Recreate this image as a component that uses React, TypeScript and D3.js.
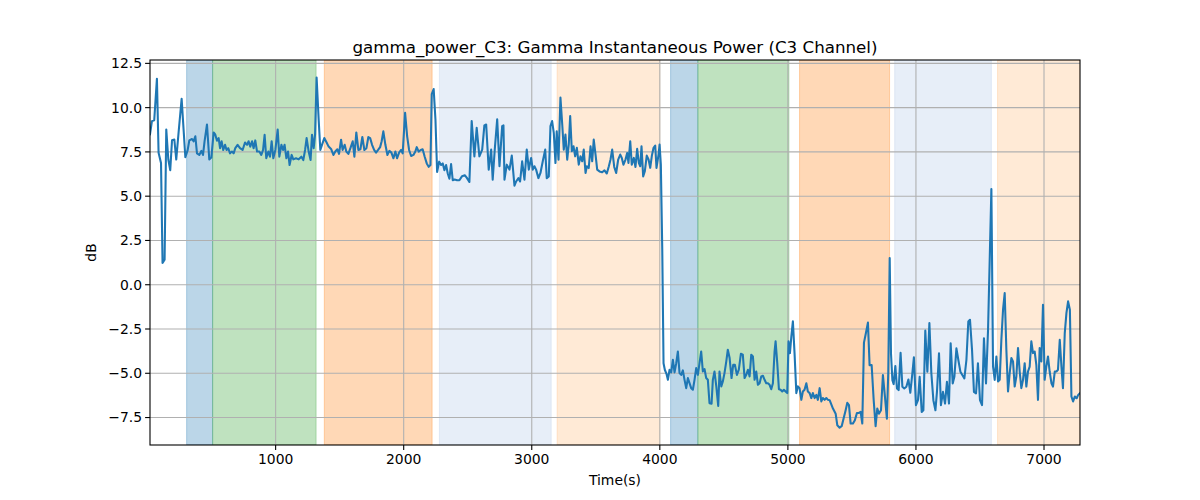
import React from "react";
import * as d3 from "d3";

// [time (s), dB], split by stretch of recording
const powerStart: [number, number][] = [
  [19, 8.5], [34, 9.24], [52, 9.29], [73, 11.63], [86, 7.45], [105, 6.88], [117, 1.23], [133, 1.41],
  [146, 8.77], [162, 7.07], [177, 6.47], [191, 8.16], [209, 8.2], [224, 7.07], [242, 8.58], [266, 10.5],
  [295, 7.2], [313, 7.6], [326, 8.15], [347, 8.23], [359, 8.1], [373, 8.38], [386, 7.42], [404, 7.33],
  [420, 7.56], [433, 7.33], [445, 8.1], [464, 9.05], [482, 7.08], [498, 7.18], [516, 8.6], [529, 8.47],
  [542, 8.13], [555, 8.28], [566, 7.71], [578, 8.1], [591, 7.61], [605, 7.9], [617, 7.61], [630, 7.71],
  [644, 7.42], [659, 7.52], [672, 7.42], [685, 7.71], [703, 7.9], [722, 7.71], [742, 7.61], [761, 8.03],
  [777, 7.9], [789, 8.1], [802, 7.8], [816, 8.1], [828, 7.71], [841, 8.15], [855, 7.52], [873, 7.52],
  [888, 7.33], [902, 7.61], [914, 8.47], [927, 7.14], [943, 7.52], [956, 7.23], [969, 8.1], [982, 7.14],
  [998, 7.61], [1016, 8.76], [1029, 7.23], [1045, 7.9], [1058, 7.61], [1070, 7.9], [1084, 7.14], [1097, 7.52],
  [1109, 6.76], [1125, 7.33], [1138, 7.08], [1159, 7.14], [1180, 7.08], [1201, 7.23], [1216, 7.04], [1230, 7.61],
  [1242, 8.28], [1258, 7.52], [1273, 7.04], [1284, 8.47], [1297, 7.71], [1308, 8.47], [1320, 11.7],
];

const powerMiddle: [number, number][] = [
  [1336, 9.33], [1349, 7.61], [1362, 7.9], [1380, 8.28], [1398, 8.03], [1414, 7.8], [1433, 7.67], [1451, 7.33],
  [1466, 7.52], [1482, 7.65], [1495, 7.39], [1511, 8.19], [1523, 7.61], [1539, 7.9], [1552, 7.52], [1568, 7.39],
  [1584, 7.71], [1602, 8.1], [1615, 7.23], [1630, 8.6], [1646, 7.61], [1662, 7.65], [1677, 8.34], [1693, 7.61],
  [1709, 7.71], [1724, 8.34], [1738, 8.28], [1753, 7.9], [1769, 7.61], [1784, 7.46], [1800, 7.61], [1816, 7.77],
  [1828, 8.1], [1841, 8.66], [1857, 7.9], [1873, 7.33], [1888, 7.56], [1904, 7.46], [1920, 7.14], [1935, 7.52],
  [1948, 7.14], [1964, 7.46], [1980, 7.61], [1992, 7.42], [2011, 9.71], [2027, 8.38], [2042, 7.61], [2058, 7.27],
  [2076, 7.33], [2091, 7.52], [2102, 7.77], [2117, 7.52], [2133, 7.61], [2148, 7.65], [2164, 7.23], [2180, 6.85],
  [2195, 6.66], [2209, 6.76], [2219, 10.76], [2234, 11.05], [2248, 9.33], [2261, 6.37], [2277, 6.95], [2292, 6.76],
  [2305, 6.85], [2318, 6.47], [2331, 6.76], [2344, 6.28], [2357, 5.99], [2370, 6.81], [2383, 5.9], [2398, 5.94],
  [2417, 5.9], [2435, 5.9], [2456, 6.13], [2477, 6.18], [2492, 6.05], [2513, 5.8], [2531, 9.24], [2552, 7.25],
  [2570, 8.86], [2591, 7.25], [2613, 7.63], [2630, 9.0], [2644, 9.05], [2664, 6.5], [2683, 7.63], [2695, 5.93],
  [2711, 7.63], [2730, 9.34], [2748, 6.69], [2769, 8.96], [2779, 9.0], [2787, 5.93], [2805, 6.78], [2826, 6.5],
  [2844, 7.29], [2865, 5.59], [2878, 5.83], [2896, 6.02], [2909, 5.83], [2925, 6.97], [2943, 5.93], [2961, 7.63],
  [2977, 6.5], [2995, 7.16], [3008, 6.5], [3021, 6.69], [3034, 6.5], [3052, 6.02], [3068, 6.31], [3086, 6.97],
  [3105, 7.63], [3117, 6.02], [3133, 6.12], [3146, 8.96], [3159, 9.24], [3172, 8.58], [3185, 6.87], [3195, 8.67],
  [3209, 7.06], [3224, 10.57], [3238, 9.05], [3250, 7.63], [3263, 8.48], [3277, 7.06], [3289, 7.92], [3300, 9.53],
  [3313, 7.54], [3326, 7.82], [3339, 7.25], [3352, 7.73], [3367, 6.78], [3380, 7.25], [3394, 6.97], [3406, 7.63],
  [3420, 6.31], [3430, 6.69], [3445, 6.59], [3459, 7.82], [3472, 6.97], [3484, 8.2], [3498, 7.35], [3511, 6.5],
  [3529, 6.4], [3550, 6.35], [3568, 6.46], [3586, 6.28], [3602, 6.69], [3615, 7.07], [3628, 7.63], [3644, 6.65],
  [3659, 6.31], [3675, 7.07], [3691, 7.35], [3703, 7.16], [3716, 6.78], [3732, 7.07], [3745, 7.44], [3755, 6.88],
  [3769, 8.1], [3781, 6.78], [3797, 7.16], [3810, 6.65], [3823, 7.67], [3836, 6.88], [3847, 6.69], [3857, 7.82],
  [3870, 6.12], [3883, 6.41], [3898, 7.29], [3912, 7.07], [3925, 6.6], [3938, 7.29], [3951, 7.73], [3964, 7.86],
  [3974, 6.6], [3990, 7.35], [3998, 7.91], [4008, 6.78], [4019, 1.98],
];

const powerLate: [number, number][] = [
  [4029, -4.43], [4039, -4.8], [4052, -5.03], [4063, -5.37], [4076, -4.8], [4089, -4.95], [4102, -4.24], [4115, -4.95],
  [4128, -4.43], [4141, -3.77], [4154, -4.99], [4167, -5.09], [4180, -4.84], [4193, -5.37], [4206, -5.84], [4219, -5.27],
  [4232, -5.56], [4245, -5.84], [4258, -5.93], [4271, -5.37], [4284, -4.71], [4297, -5.09], [4310, -4.43], [4323, -3.77],
  [4336, -4.9], [4349, -4.76], [4362, -5.27], [4375, -5.37], [4388, -6.69], [4404, -6.72], [4414, -5.37], [4427, -4.9],
  [4441, -5.74], [4456, -6.84], [4466, -4.9], [4480, -5.74], [4492, -5.46], [4505, -4.99], [4519, -4.33], [4531, -3.67],
  [4545, -4.14], [4560, -5.27], [4573, -4.52], [4586, -4.52], [4602, -5.09], [4617, -4.8], [4633, -3.9], [4648, -3.95],
  [4662, -5.27], [4675, -5.09], [4688, -4.8], [4701, -5.18], [4714, -3.95], [4727, -4.05], [4740, -5.37], [4753, -4.9],
  [4766, -5.65], [4779, -5.56], [4792, -5.18], [4805, -5.14], [4818, -5.37], [4831, -5.56], [4844, -5.56], [4857, -5.65],
  [4870, -5.9], [4883, -5.56], [4896, -3.77], [4904, -3.2], [4917, -4.43], [4930, -5.9], [4943, -5.93], [4956, -6.03],
  [4969, -5.93], [4982, -6.03], [4995, -6.12], [5005, -3.2], [5016, -3.86], [5027, -2.92], [5039, -2.07], [5052, -3.86],
  [5066, -6.12], [5078, -5.74], [5091, -5.84], [5105, -6.5], [5117, -6.03], [5130, -5.93], [5144, -5.56], [5156, -6.03],
  [5170, -6.12], [5183, -6.4], [5195, -6.12], [5209, -6.4], [5222, -6.22], [5234, -6.5], [5248, -5.84], [5261, -6.59],
  [5273, -6.4], [5287, -6.5], [5300, -6.4], [5313, -6.5], [5326, -6.52], [5352, -6.99], [5373, -7.28], [5386, -7.94],
  [5404, -8.07], [5420, -7.99], [5435, -7.56], [5451, -7.09], [5464, -6.67], [5477, -6.8], [5490, -7.84], [5508, -7.84],
  [5523, -7.65], [5539, -7.24], [5555, -7.24], [5568, -7.18], [5581, -7.84], [5594, -3.27], [5609, -2.74], [5625, -2.14],
  [5638, -4.54], [5654, -4.54], [5670, -6.52], [5685, -7.99], [5698, -6.99], [5711, -7.28], [5727, -7.09], [5742, -5.1],
  [5758, -6.33], [5773, -7.56], [5784, -4.91], [5795, 1.51], [5805, -3.87], [5816, -5.39], [5826, -5.61], [5839, -4.59],
  [5852, -5.86], [5865, -5.95], [5880, -3.84], [5894, -5.76], [5909, -5.86], [5925, -5.76], [5941, -5.35], [5956, -6.1],
  [5972, -5.01], [5984, -4.1], [6000, -6.8], [6016, -6.52], [6029, -5.2], [6045, -7.18], [6058, -7.09], [6073, -2.59],
  [6089, -4.91], [6105, -2.17], [6120, -4.97], [6136, -6.52], [6152, -7.09], [6164, -6.05], [6180, -3.87], [6195, -6.8],
  [6211, -6.05], [6227, -6.71], [6242, -5.48], [6258, -6.71], [6271, -3.31], [6287, -5.58], [6300, -5.2], [6316, -3.59],
  [6331, -4.25], [6347, -4.91], [6362, -5.1], [6378, -5.29], [6394, -4.25], [6409, -2.08], [6422, -1.98], [6438, -3.69],
  [6453, -6.05], [6469, -6.14], [6484, -4.44], [6500, -6.52], [6516, -6.8], [6531, -3.02], [6547, -5.58], [6563, -2.54],
  [6589, 5.41], [6602, -4.62], [6615, -5.37], [6628, -4.05], [6641, -5.46], [6654, -5.37], [6667, -3.11], [6680, -1.41],
  [6693, -0.47], [6706, -3.67], [6719, -6.03], [6732, -4.99], [6745, -4.14], [6758, -4.33], [6771, -5.75], [6784, -5.18],
  [6797, -3.58], [6810, -4.9], [6823, -5.84], [6836, -5.37], [6849, -4.43], [6862, -5.75], [6875, -4.9], [6888, -4.62],
  [6901, -3.2], [6914, -3.86], [6927, -3.77], [6940, -4.52], [6953, -6.5], [6966, -3.58], [6979, -4.33], [6992, -1.13],
  [7005, -5.37], [7018, -4.62], [7031, -4.05], [7044, -4.9], [7058, -5.56], [7070, -5.75], [7084, -4.9], [7097, -4.9],
  [7109, -4.8], [7123, -3.11], [7136, -4.62], [7148, -5.84], [7162, -2.73], [7175, -1.6], [7188, -0.94], [7202, -1.41],
  [7214, -6.31], [7227, -6.59], [7241, -6.31], [7255, -6.41], [7267, -6.22], [7281, -6.12],
];

const bandStarts = [305, 508, 1380, 2279, 3198, 4084, 4297, 5091, 5834, 6637];
const bandEnds = [508, 1316, 2222, 3152, 4000, 4297, 5008, 5794, 6589, 7281];
const bandColors = ["#1f77b4", "#2ca02c", "#ff7f0e", "#aec7e8", "#ffbb78", "#1f77b4", "#2ca02c", "#ff7f0e", "#aec7e8", "#ffbb78"];

const xTicks = [1000, 2000, 3000, 4000, 5000, 6000, 7000];
const yTicks = [-7.5, -5, -2.5, 0, 2.5, 5, 7.5, 10, 12.5];

const W = 1200;
const H = 500;
const margin = { left: 150, right: 120, top: 60, bottom: 55 };

export default function App() {
  const series = [...powerStart, ...powerMiddle, ...powerLate];
  const innerW = W - margin.left - margin.right;
  const innerH = H - margin.top - margin.bottom;

  const x = d3.scaleLinear().domain([19, 7281]).range([0, innerW]);
  const y = d3.scaleLinear().domain([-9.05, 12.69]).range([innerH, 0]);

  const line = d3.line<[number, number]>()
    .x(d => x(d[0]))
    .y(d => y(d[1]));

  const fmtY = (v: number) => (v < 0 ? "\u2212" : "") + Math.abs(v).toFixed(1);
  const font = "DejaVu Sans, sans-serif";

  return (
    <div style={{ position: "absolute", left: 0, top: 0 }}>
      <svg width={W} height={H} style={{ display: "block", background: "#fff" }} fontFamily={font}>
        <defs>
          <clipPath id="plotClip">
            <rect x={0} y={0} width={innerW} height={innerH} />
          </clipPath>
        </defs>
        <g transform={`translate(${margin.left},${margin.top})`}>
          {bandStarts.map((s, i) => (
            <rect
              key={"band" + i}
              x={x(s)}
              y={0}
              width={x(bandEnds[i]) - x(s)}
              height={innerH}
              fill={bandColors[i]}
              fillOpacity={0.3}
              stroke={bandColors[i]}
              strokeOpacity={0.3}
              strokeWidth={1}
              clipPath="url(#plotClip)"
            />
          ))}
          {xTicks.map(t => (
            <line key={"gx" + t} x1={x(t)} x2={x(t)} y1={0} y2={innerH} stroke="#b0b0b0" strokeWidth={1.1} />
          ))}
          {yTicks.map(t => (
            <line key={"gy" + t} x1={0} x2={innerW} y1={y(t)} y2={y(t)} stroke="#b0b0b0" strokeWidth={1.1} />
          ))}
          <path
            d={line(series) ?? ""}
            fill="none"
            stroke="#1f77b4"
            strokeWidth={2.08}
            strokeLinejoin="round"
            strokeLinecap="square"
            clipPath="url(#plotClip)"
          />
          <rect x={0} y={0} width={innerW} height={innerH} fill="none" stroke="#000" strokeWidth={1.1} />
          {xTicks.map(t => (
            <g key={"tx" + t} transform={`translate(${x(t)},${innerH})`}>
              <line y1={0} y2={4.9} stroke="#000" strokeWidth={1.1} />
              <text y={19} textAnchor="middle" fontSize={13.9} fill="#000">{t}</text>
            </g>
          ))}
          {yTicks.map(t => (
            <g key={"ty" + t} transform={`translate(0,${y(t)})`}>
              <line x1={0} x2={-4.9} stroke="#000" strokeWidth={1.1} />
              <text x={-8} dy="0.35em" textAnchor="end" fontSize={13.9} fill="#000">{fmtY(t)}</text>
            </g>
          ))}
          <text x={innerW / 2} y={innerH + 40} textAnchor="middle" fontSize={13.9} fill="#000">Time(s)</text>
          <text
            transform={`translate(-54,${innerH / 2}) rotate(-90)`}
            textAnchor="middle"
            fontSize={13.9}
            fill="#000"
          >dB</text>
          <text x={innerW / 2} y={-7} textAnchor="middle" fontSize={16.7} fill="#000">
            gamma_power_C3: Gamma Instantaneous Power (C3 Channel)
          </text>
        </g>
      </svg>
    </div>
  );
}
